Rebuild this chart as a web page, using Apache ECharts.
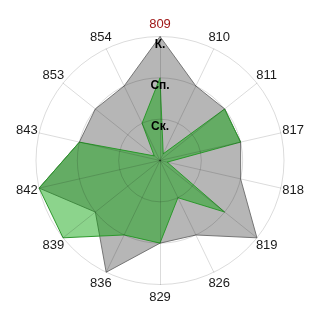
<!DOCTYPE html>
<html><head><meta charset="utf-8">
<script src="https://cdn.jsdelivr.net/npm/echarts@6/dist/echarts.min.js"></script>
<style>html,body{margin:0;padding:0;background:#fff}#c{width:320px;height:320px}</style>
</head><body><div id="c"></div>
<script>
// Categories clockwise from the top
const categories = ['809','810','811','817','818','819','826','829','836','839','842','843','853','854'];
// Radial level labels (values 0..3)
const levelLabels = ['', 'Ск.', 'Сп.', 'К.'];
// Series values (0..3)
const seriesGray  = [3, 2, 2, 2, 2, 3, 2, 2, 3, 2, 3, 2, 2, 2];
const seriesGreen = [2, 0.18, 2, 2, 0.18, 2, 1, 2, 2, 3, 3, 2, 0.18, 1];
const highlighted = '809';

const n = categories.length;
const order = [0];
for (let i = n - 1; i >= 1; i--) order.push(i);
const reorder = arr => order.map(i => arr[i]);

const indicator = reorder(categories).map(c => {
  const ind = { name: c, min: 0, max: 3 };
  if (c === highlighted) { ind.color = '#a01818'; ind.axisLabel = { show: true }; }
  return ind;
});

const gridColor = 'rgba(0,0,0,0.14)';
const chart = echarts.init(document.getElementById('c'), null, { renderer: 'canvas' });
chart.setOption({
  animation: false,
  backgroundColor: '#fff',
  radar: {
    z: 3,
    center: [160, 160.5],
    radius: 124,
    startAngle: 90,
    shape: 'circle',
    splitNumber: 3,
    indicator: indicator,
    axisName: { color: '#1a1a1a', fontSize: 13, fontFamily: 'Liberation Sans, Arial, sans-serif',
                align: 'center', verticalAlign: 'middle' },
    nameGap: 12.5,
    splitLine: { lineStyle: { color: gridColor, width: 1 } },
    splitArea: { show: false },
    axisLine: { lineStyle: { color: gridColor, width: 1 } },
    axisTick: { show: false },
    axisLabel: {
      show: false,
      formatter: v => levelLabels[Math.round(v)] || '',
      align: 'center', verticalAlign: 'top', margin: 0,
      fontWeight: 'bold', fontSize: 12, color: '#000',
      fontFamily: 'Liberation Sans, Arial, sans-serif', lineHeight: 16
    }
  },
  series: [{
    type: 'radar', symbol: 'none', silent: true, z: 2,
    data: [
      { value: reorder(seriesGray), lineStyle: { color: '#7a7a7a', width: 1 },
        areaStyle: { color: 'rgba(110,110,110,0.5)', opacity: 1 } },
      { value: reorder(seriesGreen), lineStyle: { color: '#3c963c', width: 1 },
        areaStyle: { color: 'rgba(0,160,0,0.45)', opacity: 1 } }
    ]
  }]
});
</script></body></html>
